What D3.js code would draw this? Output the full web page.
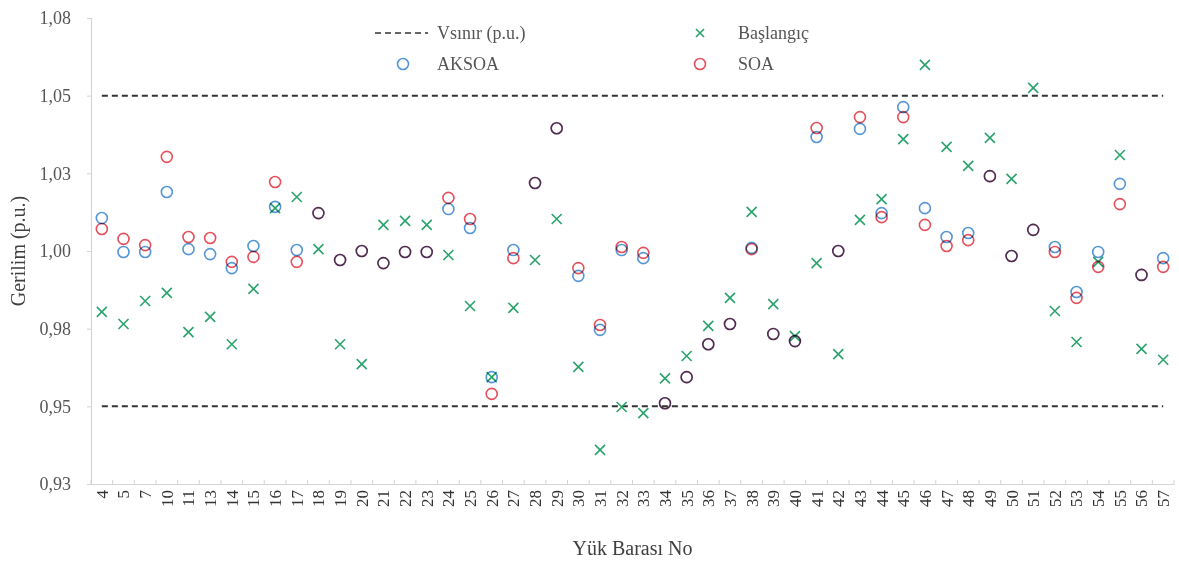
<!DOCTYPE html>
<html>
<head>
<meta charset="utf-8">
<script src="https://cdn.jsdelivr.net/npm/d3@7"></script>
<style>
  html, body { margin: 0; padding: 0; background: #fff; }
  svg { display: block; font-family: "Liberation Serif", "DejaVu Serif", serif; }
  .circ { mix-blend-mode: multiply; }
</style>
</head>
<body>
<svg id="chart" width="1179" height="563"></svg>
<script>
// Load bus numbers (x categories)
const buses = [4, 5, 7, 10, 11, 13, 14, 15, 16, 17, 18, 19, 20, 21, 22, 23, 24, 25, 26, 27,
  28, 29, 30, 31, 32, 33, 34, 35, 36, 37, 38, 39, 40, 41, 42, 43, 44, 45, 46, 47,
  48, 49, 50, 51, 52, 53, 54, 55, 56, 57];

// Initial bus voltages (p.u.)
const baslangic = [0.9804, 0.9765, 0.9839, 0.9865, 0.9739, 0.9788, 0.9700, 0.9878, 1.0138, 1.0174,
  1.0006, 0.9700, 0.9636, 1.0084, 1.0097, 1.0084, 0.9987, 0.9823, 0.9594, 0.9817,
  0.9971, 1.0103, 0.9627, 0.9360, 0.9498, 0.9478, 0.9590, 0.9662, 0.9759, 0.9849,
  1.0126, 0.9829, 0.9726, 0.9961, 0.9668, 1.0100, 1.0167, 1.0360, 1.0599, 1.0335,
  1.0274, 1.0364, 1.0232, 1.0525, 0.9807, 0.9707, 0.9965, 1.0309, 0.9685, 0.9650];

// Voltages after AKSOA optimisation (p.u.)
const aksoa = [1.0106, 0.9997, 0.9997, 1.0190, 1.0006, 0.9990, 0.9945, 1.0016, 1.0142, 1.0003,
  1.0122, 0.9971, 1.0000, 0.9961, 0.9997, 0.9997, 1.0135, 1.0074, 0.9594, 1.0003,
  1.0219, 1.0395, 0.9920, 0.9746, 1.0003, 0.9977, 0.9510, 0.9594, 0.9700, 0.9765,
  1.0010, 0.9733, 0.9710, 1.0367, 1.0000, 1.0393, 1.0122, 1.0463, 1.0138, 1.0045,
  1.0058, 1.0241, 0.9984, 1.0068, 1.0013, 0.9868, 0.9997, 1.0216, 0.9923, 0.9977];

// Voltages after SOA optimisation (p.u.)
const soa = [1.0071, 1.0039, 1.0019, 1.0303, 1.0045, 1.0042, 0.9965, 0.9981, 1.0222, 0.9965,
  1.0122, 0.9971, 1.0000, 0.9961, 0.9997, 0.9997, 1.0171, 1.0103, 0.9540, 0.9977,
  1.0219, 1.0395, 0.9945, 0.9762, 1.0013, 0.9994, 0.9510, 0.9594, 0.9700, 0.9765,
  1.0006, 0.9733, 0.9710, 1.0396, 1.0000, 1.0431, 1.0109, 1.0431, 1.0084, 1.0016,
  1.0035, 1.0241, 0.9984, 1.0068, 0.9997, 0.9849, 0.9949, 1.0151, 0.9923, 0.9949];

// Voltage limits (p.u.)
const limits = [0.95, 1.05];

// Y axis ticks and their printed labels
const yTicks = [0.925, 0.95, 0.975, 1.0, 1.025, 1.05, 1.075];
const yTickLabels = ["0,93", "0,95", "0,98", "1,00", "1,03", "1,05", "1,08"];

const colors = { aksoa: "#5596d6", soa: "#e5505b", baslangic: "#2aa36c", limit: "#333333", axis: "#d4d4d4", text: "#555555" };

const svg = d3.select("#chart");
const plot = { left: 91, right: 1174, top: 18, bottom: 484 };

const x = d3.scaleBand().domain(buses).range([plot.left, plot.right]).padding(0);
const cx = d => x(d) + x.bandwidth() / 2;
const y = d3.scaleLinear().domain([0.925, 1.075]).range([plot.bottom, plot.top]);

// Y axis
const yAxis = svg.append("g").attr("transform", `translate(${plot.left},0)`)
  .call(d3.axisLeft(y).tickValues(yTicks).tickSize(4).tickPadding(16)
    .tickFormat((d, i) => yTickLabels[i]));
yAxis.select(".domain").attr("stroke", colors.axis).attr("stroke-width", 1.2);
yAxis.selectAll(".tick line").attr("stroke", colors.axis);
yAxis.selectAll(".tick text").attr("fill", colors.text).style("font-size", "18px")
  .style("font-family", "Liberation Serif, serif");

// X axis
const xAxis = svg.append("g").attr("transform", `translate(0,${plot.bottom})`)
  .call(d3.axisBottom(x).tickSize(0).tickPadding(0));
xAxis.select(".domain").attr("stroke", colors.axis).attr("stroke-width", 1.2);
xAxis.selectAll(".tick text")
  .attr("fill", "#333")
  .attr("y", 0)
  .style("font-size", "17px")
  .style("font-family", "Liberation Serif, serif")
  .attr("text-anchor", "end")
  .attr("dy", "0.35em")
  .attr("transform", "translate(0,6) rotate(-90)");
// small band-boundary ticks along the x axis
svg.append("g").selectAll("line").data(buses.concat(["end"])).join("line")
  .attr("x1", d => d === "end" ? plot.right : x(d)).attr("x2", d => d === "end" ? plot.right : x(d))
  .attr("y1", plot.bottom - 4).attr("y2", plot.bottom)
  .attr("stroke", colors.axis);

// Limit lines
svg.append("g").selectAll("line").data(limits).join("line")
  .attr("x1", cx(buses[0])).attr("x2", cx(buses[buses.length - 1]))
  .attr("y1", d => y(d)).attr("y2", d => y(d))
  .attr("stroke", colors.limit).attr("stroke-width", 2).attr("stroke-dasharray", "6,4");

// Başlangıç (x markers)
const xm = 5;
svg.append("g").selectAll("path").data(buses).join("path")
  .attr("d", (d, i) => {
    const px = cx(d), py = y(baslangic[i]);
    return `M${px - xm},${py - xm}L${px + xm},${py + xm}M${px - xm},${py + xm}L${px + xm},${py - xm}`;
  })
  .attr("stroke", colors.baslangic).attr("stroke-width", 1.6).attr("fill", "none");

// AKSOA circles
svg.append("g").selectAll("circle").data(buses).join("circle")
  .attr("class", "circ")
  .attr("cx", d => cx(d)).attr("cy", (d, i) => y(aksoa[i])).attr("r", 5.5)
  .attr("fill", "none").attr("stroke", colors.aksoa).attr("stroke-width", 1.6);

// SOA circles
svg.append("g").selectAll("circle").data(buses).join("circle")
  .attr("class", "circ")
  .attr("cx", d => cx(d)).attr("cy", (d, i) => y(soa[i])).attr("r", 5.5)
  .attr("fill", "none").attr("stroke", colors.soa).attr("stroke-width", 1.6);

// Legend
const lg = svg.append("g").style("font-size", "18px").attr("fill", colors.text);
lg.append("line").attr("x1", 375).attr("x2", 428).attr("y1", 33).attr("y2", 33)
  .attr("stroke", colors.limit).attr("stroke-width", 1.6).attr("stroke-dasharray", "6,4");
lg.append("text").attr("x", 437).attr("y", 33).attr("dy", "0.35em").text("Vsınır (p.u.)");
lg.append("path")
  .attr("d", `M${700 - 4},${33 - 4}L${700 + 4},${33 + 4}M${700 - 4},${33 + 4}L${700 + 4},${33 - 4}`)
  .attr("stroke", colors.baslangic).attr("stroke-width", 1.6);
lg.append("text").attr("x", 738).attr("y", 33).attr("dy", "0.35em").text("Başlangıç");
lg.append("circle").attr("cx", 403).attr("cy", 64).attr("r", 5.5)
  .attr("fill", "none").attr("stroke", colors.aksoa).attr("stroke-width", 1.6);
lg.append("text").attr("x", 437).attr("y", 64).attr("dy", "0.35em").text("AKSOA");
lg.append("circle").attr("cx", 700).attr("cy", 64).attr("r", 5.5)
  .attr("fill", "none").attr("stroke", colors.soa).attr("stroke-width", 1.6);
lg.append("text").attr("x", 738).attr("y", 64).attr("dy", "0.35em").text("SOA");

// Axis titles
svg.append("text").attr("transform", `translate(18,${(plot.top + plot.bottom) / 2}) rotate(-90)`)
  .attr("text-anchor", "middle").attr("dy", "0.35em")
  .style("font-size", "20px").attr("fill", "#404040").text("Gerilim (p.u.)");
svg.append("text").attr("x", (plot.left + plot.right) / 2).attr("y", 548)
  .attr("text-anchor", "middle").attr("dy", "0.35em")
  .style("font-size", "20px").attr("fill", "#404040").text("Yük Barası No");
</script>
</body>
</html>
